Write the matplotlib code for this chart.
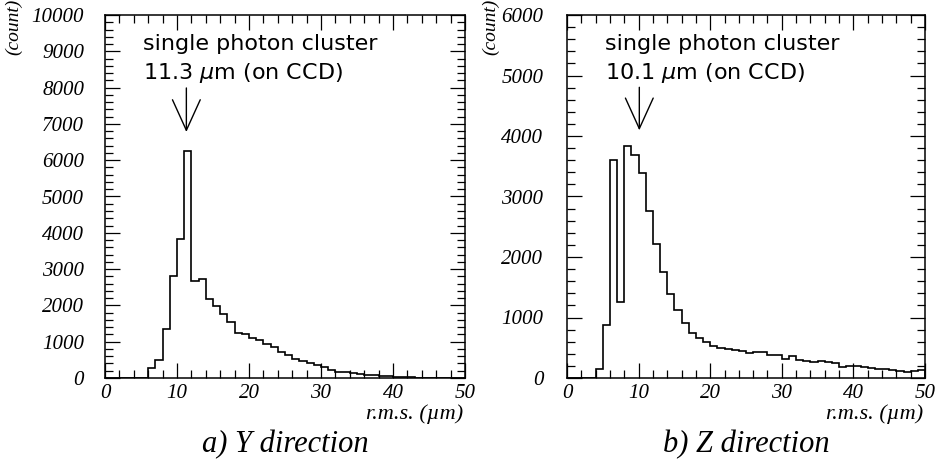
import numpy as np
import matplotlib
matplotlib.use("Agg")
import matplotlib.pyplot as plt
from matplotlib.ticker import MultipleLocator

# bin edges: 1 um wide, 0..50
edges = np.arange(0, 51, 1)

# Y direction counts per bin (0-1, 1-2, ... 49-50)
y_counts = [0, 0, 0, 0, 0, 0, 275, 490, 1360, 2800,
            3840, 6260, 2660, 2730, 2180, 1970, 1760, 1540, 1250, 1220,
            1090, 1050, 945, 850, 715, 625, 530, 470, 420, 370,
            290, 230, 170, 160, 135, 115, 90, 75, 55, 45,
            30, 20, 15, 10, 5, 5, 5, 5, 5, 5]

# Z direction counts per bin
z_counts = [0, 0, 0, 0, 143, 880, 3610, 1254, 3840, 3685,
            3390, 2767, 2217, 1750, 1390, 1117, 913, 748, 665, 594,
            528, 495, 484, 456, 445, 412, 429, 423, 374, 374,
            308, 357, 302, 280, 264, 275, 264, 247, 181, 198,
            192, 181, 165, 143, 154, 126, 115, 99, 115, 126]

y_peak = 11.3
z_peak = 10.1

serif = "Liberation Serif"
sans = "DejaVu Sans"

fig = plt.figure(figsize=(9.4, 4.69), dpi=100)
ax1 = fig.add_axes([105/940, 91/469, 360/940, 363/469])
ax2 = fig.add_axes([567/940, 91/469, 358/940, 363/469])


def style(ax, ymax, ypad):
    ax.set_xlim(0, 50)
    ax.set_ylim(0, ymax)
    ax.xaxis.set_major_locator(MultipleLocator(10))
    ax.xaxis.set_minor_locator(MultipleLocator(2))
    ax.yaxis.set_major_locator(MultipleLocator(1000))
    ax.yaxis.set_minor_locator(MultipleLocator(200))
    ax.tick_params(which="both", direction="in", top=True, right=True,
                   width=0.9, color="black")
    ax.tick_params(which="major", length=11)
    ax.tick_params(which="minor", length=5.5)
    ax.tick_params(axis="x", pad=4)
    ax.tick_params(axis="y", pad=ypad)
    for s in ax.spines.values():
        s.set_linewidth(1.1)
    for lab in ax.get_xticklabels() + ax.get_yticklabels():
        lab.set_fontfamily(serif)
        lab.set_fontstyle("italic")
        lab.set_fontsize(15)


ax1.stairs(y_counts, edges, color="black", linewidth=1.2)
ax2.stairs(z_counts, edges, color="black", linewidth=1.2)
style(ax1, 10000, 15)
style(ax2, 6000, 17)

arrow = dict(arrowstyle="->,head_length=2.2,head_width=1.0",
             color="black", lw=1.0, shrinkA=0, shrinkB=0)

# annotations
ax1.text(5.3, 9036, "single photon cluster", fontfamily=sans, fontsize=16)
ax1.text(5.3, 8237, "11.3 $\\mu$m (on CCD)", fontfamily=sans, fontsize=16)
ax1.annotate("", xy=(y_peak, 6777), xytext=(y_peak, 7990), arrowprops=arrow)
ax2.text(5.3, 5416, "single photon cluster", fontfamily=sans, fontsize=16)
ax2.text(5.3, 4937, "10.1 $\\mu$m (on CCD)", fontfamily=sans, fontsize=16)
ax2.annotate("", xy=(z_peak, 4094), xytext=(z_peak, 4805), arrowprops=arrow)

# axis labels
for x0 in (14/940, 491/940):
    fig.text(x0, 1 - 27/469, "(count)", rotation=90, ha="center", va="center",
             fontfamily=serif, fontstyle="italic", fontsize=14)
for xr in (463/940, 923/940):
    fig.text(xr, 1 - 419/469, "r.m.s. (µm)", ha="right", va="baseline",
             fontfamily=serif, fontstyle="italic", fontsize=16)

fig.text(285/940, 1 - 445/469, "a) Y direction", ha="center", va="center",
         fontfamily=serif, fontstyle="italic", fontsize=22)
fig.text(746/940, 1 - 445/469, "b) Z direction", ha="center", va="center",
         fontfamily=serif, fontstyle="italic", fontsize=22)

fig.savefig("out.png", dpi=100)
